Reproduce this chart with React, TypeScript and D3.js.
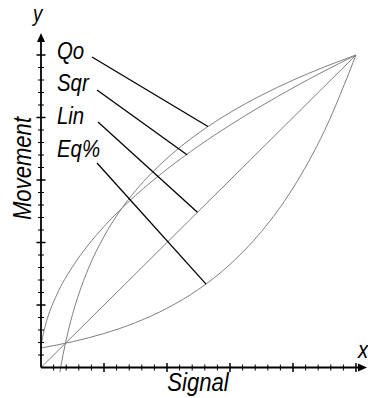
import React from "react";
import * as d3 from "d3";

// Valve characteristics: signal (0..1) vs movement (0..1)
const linX = [0, 1];
const linY = [0, 1];

const eqX = [0, 0.1, 0.2, 0.3, 0.4, 0.5, 0.6, 0.7, 0.8, 0.9, 1];
const eqY = [0.0625, 0.0825, 0.1088, 0.1436, 0.1895, 0.25, 0.3299, 0.4353, 0.5743, 0.7579, 1];

const qoX = [0.06, 0.0625, 0.07, 0.08, 0.1, 0.12, 0.15, 0.2, 0.25, 0.3, 0.4, 0.5, 0.6, 0.7, 0.8, 0.9, 1];
const qoY = [-0.015, 0, 0.041, 0.089, 0.1695, 0.2353, 0.3158, 0.4195, 0.5, 0.5658, 0.6695, 0.75, 0.8158, 0.8714, 0.9195, 0.962, 1];

const sqrX = [0, 0.005, 0.01, 0.02, 0.05, 0.1, 0.15, 0.2, 0.3, 0.4, 0.5, 0.6, 0.7, 0.8, 0.9, 1];
const sqrY = [0.066, 0.0967, 0.1197, 0.156, 0.2327, 0.3224, 0.3921, 0.4511, 0.5505, 0.6345, 0.7087, 0.7757, 0.8372, 0.8949, 0.9489, 1];

const labels = ["Qo", "Sqr", "Lin", "Eq%"];
// where each pointer touches its curve (data units)
const targetX = [0.53, 0.4635, 0.4965, 0.524];
const targetY = [0.771, 0.681, 0.4965, 0.267];

const tickValues = d3.range(1, 26).map((i) => +(i * 0.04).toFixed(2));
const majorEvery = 5;

const W = 368;
const H = 398;

export default function App() {
  const x = d3.scaleLinear().domain([0, 1]).range([41, 356]);
  const y = d3.scaleLinear().domain([0, 1]).range([367.5, 55]);
  const line = d3
    .line<[number, number]>()
    .x((d) => x(d[0]))
    .y((d) => y(d[1]))
    .curve(d3.curveMonotoneX);

  const series = [
    { xs: qoX, ys: qoY },
    { xs: sqrX, ys: sqrY },
    { xs: linX, ys: linY },
    { xs: eqX, ys: eqY },
  ];

  const font = "'Liberation Sans', Arial, Helvetica, sans-serif";
  const labelSize = 24;
  const labelLeft = 57;
  const labelBase = [59, 91, 124, 157];
  const ptrStart: [number, number][] = [
    [92, 57],
    [97, 90],
    [98, 122],
    [97, 163],
  ];

  const x0 = x(0);
  const y0 = y(0);

  return (
    <svg
      width={W}
      height={H}
      style={{ position: "absolute", left: 0, top: 0, background: "#fff" }}
    >
      {/* curves */}
      {series.map((s, i) => (
        <path
          key={i}
          d={line(s.xs.map((v, j) => [v, s.ys[j]] as [number, number])) || ""}
          fill="none"
          stroke="#808080"
          strokeWidth={1}
        />
      ))}

      {/* axes */}
      <line x1={x0} y1={y0} x2={360} y2={y0} stroke="#000" strokeWidth={1.8} />
      <polygon points={`358,${y0 - 4} 367,${y0} 358,${y0 + 4}`} fill="#000" />
      <line x1={x0} y1={y0} x2={x0} y2={42} stroke="#000" strokeWidth={1.8} />
      <polygon points={`${x0 - 4},42 ${x0},33 ${x0 + 4},42`} fill="#000" />

      {tickValues.map((t, i) => {
        const major = (i + 1) % majorEvery === 0;
        const len = major ? 4.5 : 3;
        return (
          <g key={"t" + i}>
            <line
              x1={x(t)}
              x2={x(t)}
              y1={y0 - len}
              y2={y0 + len}
              stroke="#000"
              strokeWidth={major ? 1.5 : 1}
            />
            <line
              x1={x0 - len}
              x2={x0 + len}
              y1={y(t)}
              y2={y(t)}
              stroke="#000"
              strokeWidth={major ? 1.5 : 1}
            />
          </g>
        );
      })}

      {/* pointers */}
      {labels.map((l, i) => (
        <line
          key={"p" + l}
          x1={ptrStart[i][0]}
          y1={ptrStart[i][1]}
          x2={x(targetX[i])}
          y2={y(targetY[i])}
          stroke="#000"
          strokeWidth={1.3}
        />
      ))}

      {/* labels */}
      {labels.map((l, i) => (
        <text
          key={"l" + l}
          transform={`translate(${labelLeft},${labelBase[i]}) scale(0.85,1)`}
          fontFamily={font}
          fontStyle="italic"
          fontSize={labelSize}
          fill="#000"
        >
          {l}
        </text>
      ))}

      <text
        transform={`translate(198,391) scale(0.85,1)`}
        textAnchor="middle"
        fontFamily={font}
        fontStyle="italic"
        fontSize={26}
        fill="#000"
      >
        Signal
      </text>
      <text
        transform={`translate(31,168.5) rotate(-90) scale(0.85,1)`}
        textAnchor="middle"
        fontFamily={font}
        fontStyle="italic"
        fontSize={26}
        fill="#000"
      >
        Movement
      </text>
      <text
        transform={`translate(33,20.5) scale(0.85,1)`}
        fontFamily={font}
        fontStyle="italic"
        fontSize={22}
        fill="#000"
      >
        y
      </text>
      <text
        transform={`translate(358,358) scale(0.85,1)`}
        fontFamily={font}
        fontStyle="italic"
        fontSize={24}
        fill="#000"
      >
        x
      </text>
    </svg>
  );
}
